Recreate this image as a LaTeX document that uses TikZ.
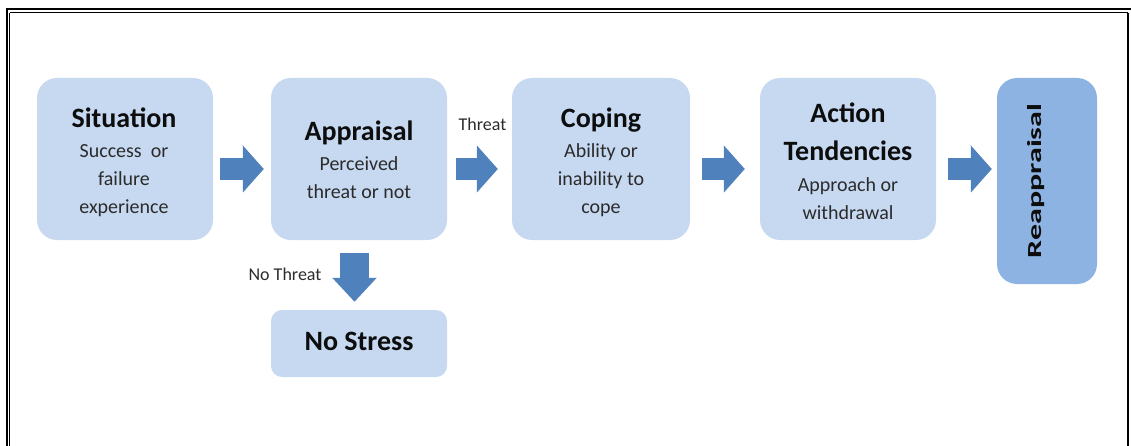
\documentclass[tikz,border=0pt]{standalone}
\usepackage{fontspec}
\setmainfont{Carlito}
\usetikzlibrary{arrows.meta}
\definecolor{boxblue}{HTML}{C6D9F1}
\definecolor{reapblue}{HTML}{8DB3E2}
\definecolor{arrowblue}{HTML}{4F81BD}
\definecolor{titleink}{HTML}{0D0D0D}
\definecolor{subink}{HTML}{2B2B2B}
\begin{document}
\begin{tikzpicture}[x=1pt,y=-1pt,
  stage/.style={fill=boxblue, rounded corners=20pt, minimum width=176pt,
    minimum height=162pt, inner sep=0pt},
  ttl/.style={font=\fontsize{28}{38}\bfseries\selectfont, text=titleink,
    inner sep=0pt, anchor=base, align=center},
  sub/.style={font=\fontsize{20}{28}\selectfont, text=subink, inner sep=0pt,
    anchor=base, align=center},
  lbl/.style={font=\fontsize{18}{22}\selectfont, text=subink, inner sep=0pt,
    anchor=base},
  flow/.style={draw=arrowblue, line width=22pt,
    -{Triangle[length=21pt,width=46pt]}},
  drop/.style={draw=arrowblue, line width=29pt,
    -{Triangle[length=24pt,width=43pt]}}
]
\useasboundingbox (0,0) rectangle (1131,446);

% double frame
\draw[line width=2.3pt] (7.2,9.2) rectangle (1140,460);
\draw[line width=1.2pt] (9.8,12.8) -- (1128.3,12.8);
\draw[line width=1.2pt] (9.8,12.8) -- (9.8,460);
\draw[line width=2pt] (1128.3,12.8) -- (1128.3,460);

% stages
\node[stage] (sit) at (125,159) {};
\node[stage] (app) at (359,159) {};
\node[stage, minimum width=178pt] (cop) at (601,159) {};
\node[stage] (act) at (848,159) {};
\node[stage, fill=reapblue, minimum width=100pt, minimum height=206pt]
  (reap) at (1047,181) {};
\node[stage, rounded corners=11pt, minimum height=67pt] (nos) at (359,343.5) {};

% texts (multi-line nodes are anchored at the baseline of their last line)
\node[ttl] (sitT) at (124,128) {Situation};
\node[sub] (sitS) at (124,214) {Success\ \ or\\failure\\experience};

\node[ttl] (appT) at (359,141) {Appraisal};
\node[sub] (appS) at (359,199) {Perceived\\threat or not};

\node[ttl] (copT) at (601,128) {Coping};
\node[sub] (copS) at (601,214) {Ability or\\inability to\\cope};

\node[ttl] (actT) at (848,161) {Action\\Tendencies};
\node[sub] (actS) at (848,219) {Approach or\\withdrawal};

\node[rotate=90, inner sep=0pt, text=titleink,
  font=\fontsize{20}{24}\bfseries\selectfont] (reapT) at (1036,181)
  {\scalebox{1.6}[1]{Reappraisal}};

\node[ttl] (nosT) at (359,350) {No Stress};

\node[lbl] (thr) at (482.5,131) {Threat};
\node[lbl] (nothr) at (285,280) {No Threat};

% block arrows
\draw[flow] ([shift={(7,10)}]sit.east) -- ([shift={(-7,10)}]app.west);
\draw[flow] ([shift={(9,10)}]app.east) -- ([shift={(-14,10)}]cop.west);
\draw[flow] ([shift={(12,10)}]cop.east) -- ([shift={(-15,10)}]act.west);
\draw[flow] ([shift={(12,10)}]act.east) -- ([shift={(-5,-12)}]reap.west);
\draw[drop] ([shift={(-4.5,13)}]app.south) -- ([shift={(-4.5,-8)}]nos.north);
\end{tikzpicture}
\end{document}
